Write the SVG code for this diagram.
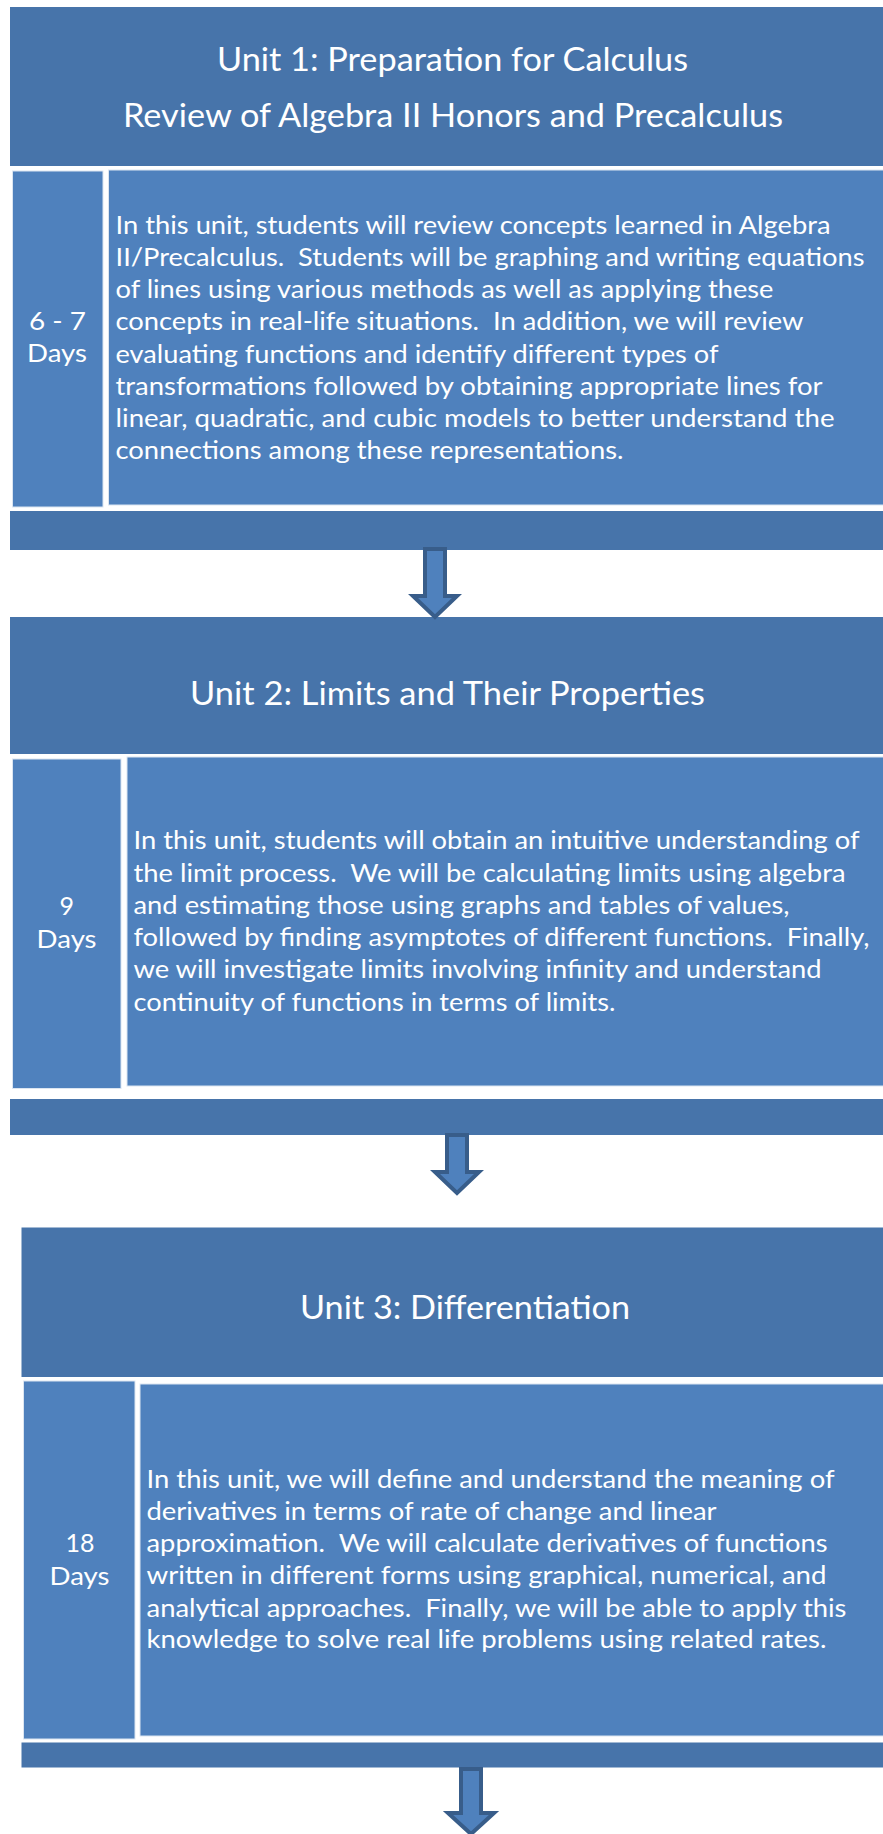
<svg xmlns="http://www.w3.org/2000/svg" width="883" height="1834" viewBox="0 0 883 1834">
<style>
.hdr{fill:#4774aa}
.box{fill:#4f81bd;stroke:#dbe5f1;stroke-width:1}
.band{fill:#4774aa}
.t{font-family:Lato,"Open Sans","Liberation Sans",sans-serif;fill:#ffffff;white-space:pre}
.title{font-size:32px}
.body{font-size:25px}
.arrow{fill:#4f81bd;stroke:#385d8a;stroke-width:4;stroke-linejoin:miter}
</style>
<rect width="883" height="1834" fill="#ffffff"/>

<g id="unit1">
  <rect class="hdr" x="10" y="7" width="890" height="159"/>
  <text class="t title" x="217" y="71" textLength="471" lengthAdjust="spacingAndGlyphs">Unit 1: Preparation for Calculus</text>
  <text class="t title" x="123" y="127" textLength="660" lengthAdjust="spacingAndGlyphs">Review of Algebra II Honors and Precalculus</text>
  <rect class="box" x="12.5" y="171" width="90.5" height="336"/>
  <text class="t body" x="29" y="330" textLength="57" lengthAdjust="spacingAndGlyphs">6 - 7</text>
  <text class="t body" x="27" y="362" textLength="60" lengthAdjust="spacingAndGlyphs">Days</text>
  <rect class="box" x="108.5" y="170" width="790" height="335"/>
  <text class="t body" x="115.5" y="234" textLength="715" lengthAdjust="spacingAndGlyphs">In this unit, students will review concepts learned in Algebra</text>
  <text class="t body" x="115.5" y="266" textLength="749" lengthAdjust="spacingAndGlyphs">II/Precalculus.  Students will be graphing and writing equations</text>
  <text class="t body" x="115.5" y="298" textLength="658" lengthAdjust="spacingAndGlyphs">of lines using various methods as well as applying these</text>
  <text class="t body" x="115.5" y="330" textLength="688" lengthAdjust="spacingAndGlyphs">concepts in real-life situations.  In addition, we will review</text>
  <text class="t body" x="115.5" y="362.5" textLength="603" lengthAdjust="spacingAndGlyphs">evaluating functions and identify different types of</text>
  <text class="t body" x="115.5" y="394.5" textLength="707" lengthAdjust="spacingAndGlyphs">transformations followed by obtaining appropriate lines for</text>
  <text class="t body" x="115.5" y="427" textLength="719" lengthAdjust="spacingAndGlyphs">linear, quadratic, and cubic models to better understand the</text>
  <text class="t body" x="115.5" y="459" textLength="508" lengthAdjust="spacingAndGlyphs">connections among these representations.</text>
  <rect class="band" x="10" y="511" width="890" height="39"/>
</g>

<g id="unit2">
  <rect class="hdr" x="10" y="617" width="890" height="137"/>
  <text class="t title" x="190" y="705" textLength="515" lengthAdjust="spacingAndGlyphs">Unit 2: Limits and Their Properties</text>
  <rect class="box" x="12.5" y="759" width="108.5" height="329.5"/>
  <text class="t body" x="66.7" y="914.5" text-anchor="middle">9</text>
  <text class="t body" x="36.6" y="947.5" textLength="60" lengthAdjust="spacingAndGlyphs">Days</text>
  <rect class="box" x="127" y="757" width="770" height="329"/>
  <text class="t body" x="133.5" y="849" textLength="726" lengthAdjust="spacingAndGlyphs">In this unit, students will obtain an intuitive understanding of</text>
  <text class="t body" x="133.5" y="881.5" textLength="712" lengthAdjust="spacingAndGlyphs">the limit process.  We will be calculating limits using algebra</text>
  <text class="t body" x="133.5" y="914" textLength="656" lengthAdjust="spacingAndGlyphs">and estimating those using graphs and tables of values,</text>
  <text class="t body" x="133.5" y="946" textLength="736" lengthAdjust="spacingAndGlyphs">followed by finding asymptotes of different functions.  Finally,</text>
  <text class="t body" x="133.5" y="978" textLength="688" lengthAdjust="spacingAndGlyphs">we will investigate limits involving infinity and understand</text>
  <text class="t body" x="133.5" y="1010.5" textLength="482" lengthAdjust="spacingAndGlyphs">continuity of functions in terms of limits.</text>
  <rect class="band" x="10" y="1099" width="890" height="36"/>
</g>

<g id="unit3">
  <rect class="hdr" x="21.5" y="1227.5" width="880" height="149.5"/>
  <text class="t title" x="300" y="1319" textLength="330" lengthAdjust="spacingAndGlyphs">Unit 3: Differentiation</text>
  <rect class="box" x="23.5" y="1381" width="111.5" height="358"/>
  <text class="t body" x="80" y="1552" text-anchor="middle">18</text>
  <text class="t body" x="49.5" y="1585" textLength="60" lengthAdjust="spacingAndGlyphs">Days</text>
  <rect class="box" x="140" y="1384" width="760" height="352"/>
  <text class="t body" x="146.5" y="1488" textLength="688" lengthAdjust="spacingAndGlyphs">In this unit, we will define and understand the meaning of</text>
  <text class="t body" x="146.5" y="1520" textLength="570" lengthAdjust="spacingAndGlyphs">derivatives in terms of rate of change and linear</text>
  <text class="t body" x="146.5" y="1552" textLength="681" lengthAdjust="spacingAndGlyphs">approximation.  We will calculate derivatives of functions</text>
  <text class="t body" x="146.5" y="1584" textLength="680" lengthAdjust="spacingAndGlyphs">written in different forms using graphical, numerical, and</text>
  <text class="t body" x="146.5" y="1616.5" textLength="700" lengthAdjust="spacingAndGlyphs">analytical approaches.  Finally, we will be able to apply this</text>
  <text class="t body" x="146.5" y="1648" textLength="680" lengthAdjust="spacingAndGlyphs">knowledge to solve real life problems using related rates.</text>
  <rect class="band" x="21.5" y="1742.5" width="880" height="25"/>
</g>

<g id="connectors">
  <path class="arrow" d="M425,549 H445 V596 H457 L435,617 L413,596 H425 Z"/>
  <path class="arrow" d="M447,1135 H467 V1172 H479 L457,1193 L435,1172 H447 Z"/>
  <path class="arrow" d="M461,1769 H481 V1813 H494 L471,1834 L448,1813 H461 Z"/>
</g>
</svg>
